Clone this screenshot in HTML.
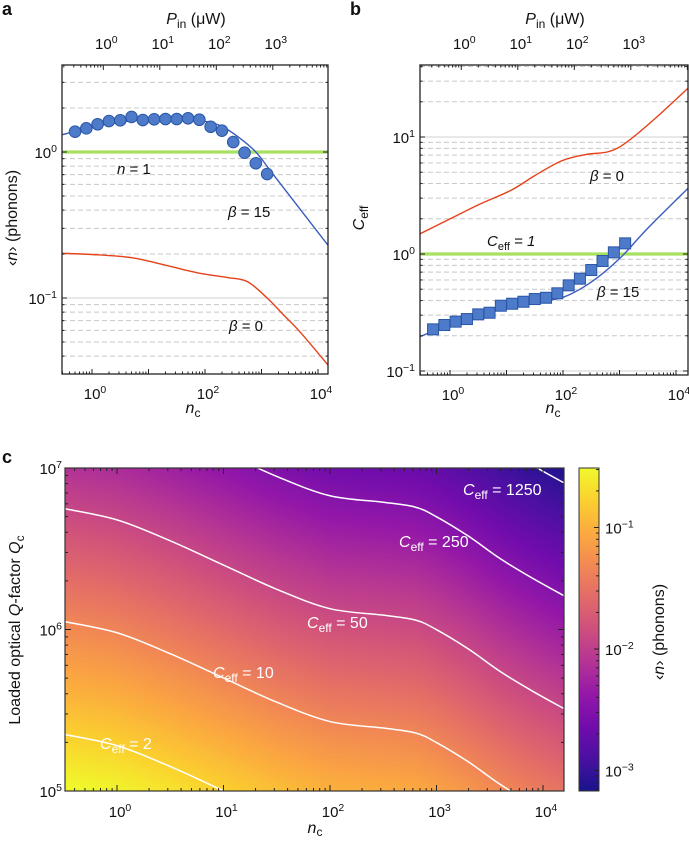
<!DOCTYPE html>
<html><head><meta charset="utf-8">
<style>
html,body{margin:0;padding:0;background:#fff;overflow:hidden;width:689px;height:841px;}
#wrap{position:relative;width:689px;height:841px;overflow:hidden;font-family:"Liberation Sans",sans-serif;}
#heat{position:absolute;left:65px;top:468px;display:block;}
#fig{position:absolute;left:0;top:0;display:block;overflow:hidden;}
text{font-family:"Liberation Sans",sans-serif;fill:#111;}
</style></head>
<body>
<div id="wrap">
<canvas id="heat" width="499" height="323"></canvas>
<svg id="fig" width="689" height="841" xmlns="http://www.w3.org/2000/svg"></svg>
</div>
<script>
// ---------- DATA ----------
const aDotsLogNc = [-0.3,-0.1,0.1,0.3,0.5,0.7,0.9,1.1,1.3,1.5,1.7,1.9,2.1,2.3,2.5,2.7,2.9,3.1];
const aDotsLogN  = [0.139,0.162,0.19,0.212,0.217,0.24,0.219,0.224,0.226,0.226,0.231,0.221,0.173,0.146,0.068,-0.005,-0.077,-0.151];
const aBlueLogNc = [-0.55,0,0.5,1,1.5,2,2.3,2.6,2.9,3.2,3.7,4.2];
const aBlueLogN  = [0.116,0.17,0.205,0.222,0.224,0.21,0.175,0.1,0.0,-0.15,-0.4,-0.65];
const aRedLogNc  = [-0.55,0,0.7,1.3,1.9,2.4,2.75,3.1,3.4,3.7,4.2];
const aRedLogN   = [-0.694,-0.702,-0.724,-0.775,-0.83,-0.86,-0.888,-1.0,-1.12,-1.24,-1.47];
const bSqLogNc = [-0.3,-0.1,0.1,0.3,0.5,0.7,0.9,1.1,1.3,1.5,1.7,1.9,2.1,2.3,2.5,2.7,2.9,3.1];
const bSqLogC  = [-0.644,-0.607,-0.578,-0.556,-0.516,-0.502,-0.442,-0.425,-0.408,-0.385,-0.374,-0.336,-0.268,-0.211,-0.137,-0.06,0.014,0.091];
const bBlueLogNc = [-0.55,0,0.5,1,1.5,2,2.5,3,3.5,4.23];
const bBlueLogC  = [-0.71,-0.6,-0.52,-0.44,-0.41,-0.37,-0.24,-0.04,0.22,0.57];
const bRedLogNc  = [-0.55,0,0.5,1.09,1.5,1.98,2.4,2.8,3.1,3.6,4.23];
const bRedLogC   = [0.168,0.3,0.42,0.547,0.67,0.797,0.85,0.874,0.946,1.145,1.425];
const cLogNc   = [-0.5,0,0.5,1,1.5,2,2.5,2.8,3,3.3,3.6,3.9,4.2];
const cBaseLogC= [0.95,1.02,1.15,1.30,1.45,1.57,1.61,1.64,1.70,1.82,1.96,2.08,2.19];
const cLevels  = [2,10,50,250,1250];
const cNLogK = -0.52, cNExp = -0.82;
const cbTicks = [-1,-2,-3];
const aYTicks=[0,-1], aXTicks=[0,2,4], topTicks=[0,1,2,3];
const bYTicks=[1,0,-1];
const cXTicks=[0,1,2,3,4], cYTicks=[5,6,7];

// ---------- SCALES ----------
const xa=l=>92+56.5*l, ya=l=>152-146*l;
const xb=l=>450+56.5*l, yb=l=>254-117*l;
const xc=l=>117+106.5*l, yc=q=>791-161.5*(q-5);
const ycb=l=>649-121.5*(l+2);
const P_OFF=0.2;

const NS="http://www.w3.org/2000/svg";
const svg=document.getElementById('fig');
function el(tag,attrs,parent){const e=document.createElementNS(NS,tag);for(const k in attrs)e.setAttribute(k,attrs[k]);(parent||svg).appendChild(e);return e;}
function catmull(pts){if(pts.length<2)return'';let d='M'+pts[0][0].toFixed(2)+','+pts[0][1].toFixed(2);
 for(let i=0;i<pts.length-1;i++){const p0=pts[i-1]||pts[i],p1=pts[i],p2=pts[i+1],p3=pts[i+2]||p2;
  const c1=[p1[0]+(p2[0]-p0[0])/6,p1[1]+(p2[1]-p0[1])/6],c2=[p2[0]-(p3[0]-p1[0])/6,p2[1]-(p3[1]-p1[1])/6];
  d+=` C${c1[0].toFixed(2)},${c1[1].toFixed(2)} ${c2[0].toFixed(2)},${c2[1].toFixed(2)} ${p2[0].toFixed(2)},${p2[1].toFixed(2)}`;}return d;}
function pow10(parent,x,y,exp,anchor,size,name){const t=el('text',{x:x,y:y,'text-anchor':anchor||'middle','font-size':size||15},parent);
 
 const a=el('tspan',{},t);a.textContent='10';const b=el('tspan',{dy:-6,'font-size':(size||15)*0.7},t);b.textContent=exp<0?'−'+(-exp):String(exp);return t;}
function txt(parent,x,y,html,attrs,name){const t=el('text',Object.assign({x:x,y:y,'font-size':15},attrs||{}),parent);t.innerHTML=html;
 return t;}
function clip(id,x0,y0,x1,y1){const d=el('clipPath',{id:id});el('rect',{x:x0,y:y0,width:x1-x0,height:y1-y0},d);}
function logTicks(lo,hi,cb){for(let d=Math.floor(lo)-1;d<=Math.ceil(hi);d++)for(let m=1;m<10;m++){const l=d+Math.log10(m);if(l>=lo-1e-9&&l<=hi+1e-9)cb(l,m===1);}}

function linePanel(o){
 const g=el('g',{});
 clip(o.name+'-clip',o.X0,o.Y0,o.X1,o.Y1);
 const ylo=(o.Y1-o.y(0))/(o.y(1)-o.y(0)), yhi=(o.Y0-o.y(0))/(o.y(1)-o.y(0));
 const xlo=(o.X0-o.x(0))/(o.x(1)-o.x(0)), xhi=(o.X1-o.x(0))/(o.x(1)-o.x(0));
 logTicks(ylo,yhi,(l,maj)=>{const Y=o.y(l);if(Math.abs(l)<1e-9)return;
  const ln=el('line',{x1:o.X0,x2:o.X1,y1:Y,y2:Y,stroke:maj?'#d0d0d0':'#c8c8c8','stroke-width':1,'stroke-dasharray':maj?'none':'5,3'},g);
  });
 const gl=el('line',{x1:o.X0,x2:o.X1,y1:o.y(0),y2:o.y(0),stroke:'#a8e060','stroke-width':3.2},g);
 
 const cg=el('g',{'clip-path':`url(#${o.name}-clip)`},g);
 const red=el('path',{d:catmull(o.redX.map((v,i)=>[o.x(v),o.y(o.redY[i])])),fill:'none',stroke:'#e6421a','stroke-width':1.4},cg);
 
 const blue=el('path',{d:catmull(o.blueX.map((v,i)=>[o.x(v),o.y(o.blueY[i])])),fill:'none',stroke:'#3a5cbf','stroke-width':1.4},cg);
 
 o.markX.forEach((v,i)=>{const X=o.x(v),Y=o.y(o.markY[i]);let m;
  if(o.square)m=el('rect',{x:X-5.5,y:Y-5.5,width:11,height:11,fill:'#4d7bc9',stroke:'#2a55a6','stroke-width':1},g);
  else m=el('circle',{cx:X,cy:Y,r:5.8,fill:'#4d7bc9',stroke:'#2a55a6','stroke-width':1},g);
  });
 const tk=el('g',{stroke:'#222','stroke-width':1},g);
 logTicks(xlo,xhi,(l,maj)=>{const X=o.x(l),L=maj?5:2.5;el('line',{x1:X,x2:X,y1:o.Y1,y2:o.Y1-L},tk);});
 logTicks(xlo-P_OFF,xhi-P_OFF,(l,maj)=>{const X=o.x(l+P_OFF),L=maj?5:2.5;el('line',{x1:X,x2:X,y1:o.Y0,y2:o.Y0+L},tk);});
 logTicks(ylo,yhi,(l,maj)=>{const Y=o.y(l),L=maj?5:2.5;el('line',{x1:o.X0,x2:o.X0+L,y1:Y,y2:Y},tk);el('line',{x1:o.X1,x2:o.X1-L,y1:Y,y2:Y},tk);});
 const fr=el('rect',{x:o.X0,y:o.Y0,width:o.X1-o.X0,height:o.Y1-o.Y0,fill:'none',stroke:'#222','stroke-width':1.3},g);
 
 o.xTicks.forEach(l=>pow10(g,o.x(l)+3,o.Y1+25,l,'middle',15,'x-tick-label'));
 topTicks.forEach(l=>pow10(g,o.x(l+P_OFF)+3,o.Y0-16,l,'middle',15,'top-tick-label'));
 o.yTicks.forEach(l=>pow10(g,o.X0-5,o.y(l)+6,l,'end',15,'y-tick-label'));
 return g;
}

linePanel({name:'panel-a',X0:62,X1:328,Y0:65,Y1:374,x:xa,y:ya,redX:aRedLogNc,redY:aRedLogN,blueX:aBlueLogNc,blueY:aBlueLogN,markX:aDotsLogNc,markY:aDotsLogN,square:false,xTicks:aXTicks,yTicks:aYTicks});
linePanel({name:'panel-b',X0:420,X1:688,Y0:65,Y1:375,x:xb,y:yb,redX:bRedLogNc,redY:bRedLogC,blueX:bBlueLogNc,blueY:bBlueLogC,markX:bSqLogNc,markY:bSqLogC,square:true,xTicks:aXTicks,yTicks:bYTicks});

txt(svg,2,15,'a',{'font-weight':'bold','font-size':18},'panel-label-a');
txt(svg,350,15,'b',{'font-weight':'bold','font-size':18},'panel-label-b');
txt(svg,196,24,'<tspan font-style="italic">P</tspan><tspan font-size="12" dy="4">in</tspan><tspan dy="-4"> (μW)</tspan>',{'text-anchor':'middle','font-size':16},'top-axis-title-a');
txt(svg,555,24,'<tspan font-style="italic">P</tspan><tspan font-size="12" dy="4">in</tspan><tspan dy="-4"> (μW)</tspan>',{'text-anchor':'middle','font-size':16},'top-axis-title-b');
txt(svg,193,413,'<tspan font-style="italic">n</tspan><tspan font-size="12" dy="4">c</tspan>',{'text-anchor':'middle','font-size':16},'x-axis-title-a');
txt(svg,553,413,'<tspan font-style="italic">n</tspan><tspan font-size="12" dy="4">c</tspan>',{'text-anchor':'middle','font-size':16},'x-axis-title-b');
txt(svg,0,0,'‹<tspan font-style="italic">n</tspan>› (phonons)',{'text-anchor':'middle','font-size':16,transform:'translate(17,218) rotate(-90)'},'y-axis-title-a');
txt(svg,0,0,'<tspan font-style="italic">C</tspan><tspan font-size="12" dy="4">eff</tspan>',{'text-anchor':'middle','font-size':16,transform:'translate(364,218) rotate(-90)'},'y-axis-title-b');
txt(svg,117,174,'<tspan font-style="italic">n</tspan> = 1',{},'label-n-equals-1');
txt(svg,228,217,'<tspan font-style="italic">β</tspan> = 15',{},'label-a-beta15');
txt(svg,229,331,'<tspan font-style="italic">β</tspan> = 0',{},'label-a-beta0');
txt(svg,590,181,'<tspan font-style="italic">β</tspan> = 0',{},'label-b-beta0');
txt(svg,487,246,'<tspan font-style="italic">C</tspan><tspan font-size="11" dy="4">eff</tspan><tspan dy="-4" font-style="italic"> = 1</tspan>',{},'label-ceff-1');
txt(svg,597,297,'<tspan font-style="italic">β</tspan> = 15',{},'label-b-beta15');

// ---------- PANEL C ----------
const CX0=65,CX1=564,CY0=468,CY1=791;
function baseAt(l){if(l<=cLogNc[0])return cBaseLogC[0]+(l-cLogNc[0])*(cBaseLogC[1]-cBaseLogC[0])/(cLogNc[1]-cLogNc[0]);
 for(let i=0;i<cLogNc.length-1;i++)if(l<=cLogNc[i+1]){const f=(l-cLogNc[i])/(cLogNc[i+1]-cLogNc[i]);return cBaseLogC[i]+f*(cBaseLogC[i+1]-cBaseLogC[i]);}
 const n=cLogNc.length;return cBaseLogC[n-1]+(l-cLogNc[n-1])*(cBaseLogC[n-1]-cBaseLogC[n-2])/(cLogNc[n-1]-cLogNc[n-2]);}
const CB_MIN=-2-(CY1-649)/121.5, CB_MAX=-2+(649-CY0)/121.5;
const plasma=[[13,8,135],[65,4,157],[106,0,168],[143,13,164],[177,42,144],[204,71,120],[225,100,98],[242,132,75],[252,166,54],[252,206,37],[240,249,33]];
function cmap(t){t=Math.max(0,Math.min(1,t));const s=t*(plasma.length-1),i=Math.min(plasma.length-2,Math.floor(s)),f=s-i;
 return plasma[i].map((c,k)=>Math.round(c+f*(plasma[i+1][k]-c)));}
(function(){const cv=document.getElementById('heat'),ctx=cv.getContext('2d');const W=cv.width,H=cv.height;
 const img=ctx.createImageData(W,H);
 for(let px=0;px<W;px++){const l=(CX0+px+0.5-117)/106.5;const b=baseAt(l);
  for(let py=0;py<H;py++){const q=5+(CY1-(CY0+py+0.5))/161.5;const logC=b+q-6;const logn=cNLogK+cNExp*logC;
   const c=cmap((logn-CB_MIN)/(CB_MAX-CB_MIN));const k=(py*W+px)*4;
   img.data[k]=c[0]*0.95+12;img.data[k+1]=c[1]*0.95+12;img.data[k+2]=c[2]*0.95+12;img.data[k+3]=255;}}
 ctx.putImageData(img,0,0);})();

const gc=el('g',{});
clip('c-clip',CX0,CY0,CX1,CY1);
const cg=el('g',{'clip-path':'url(#c-clip)'},gc);
cLevels.forEach(C=>{const pts=cLogNc.map((l,i)=>[xc(l),yc(Math.log10(C)+6-cBaseLogC[i])]);
 const p=el('path',{d:catmull(pts),fill:'none',stroke:'#fff','stroke-width':1.5},cg);
 });
const tkc=el('g',{stroke:'#222','stroke-width':1},gc);
logTicks(-0.49,4.2,(l,maj)=>{const X=xc(l),L=maj?6:3;el('line',{x1:X,x2:X,y1:CY1,y2:CY1-L},tkc);el('line',{x1:X,x2:X,y1:CY0,y2:CY0+L},tkc);});
logTicks(5,7,(l,maj)=>{const Y=yc(l),L=maj?6:3;el('line',{x1:CX0,x2:CX0+L,y1:Y,y2:Y},tkc);el('line',{x1:CX1,x2:CX1-L,y1:Y,y2:Y},tkc);});
const frc=el('rect',{x:CX0,y:CY0,width:CX1-CX0,height:CY1-CY0,fill:'none',stroke:'#333','stroke-width':1.2},gc);

cXTicks.forEach(l=>pow10(gc,xc(l)+3,CY1+26,l,'middle',15,'c-x-tick-label'));
cYTicks.forEach(l=>pow10(gc,CX0-3,yc(l)+6,l,'end',15,'c-y-tick-label'));
txt(svg,2,463,'c',{'font-weight':'bold','font-size':18},'panel-label-c');
txt(svg,315,833,'<tspan font-style="italic">n</tspan><tspan font-size="12" dy="3">c</tspan>',{'text-anchor':'middle','font-size':16},'x-axis-title-c');
txt(svg,0,0,'Loaded optical <tspan font-style="italic">Q</tspan>-factor <tspan font-style="italic">Q</tspan><tspan font-size="12" dy="4">c</tspan>',{'text-anchor':'middle','font-size':16,transform:'translate(20,630) rotate(-90)'},'y-axis-title-c');
const ceffLabels=[[463,495,'1250'],[399,547,'250'],[307,628,'50'],[213,678,'10'],[100,749,'2']];
ceffLabels.forEach(a=>txt(svg,a[0],a[1],`<tspan font-style="italic">C</tspan><tspan font-size="12" dy="4">eff</tspan><tspan dy="-4"> = ${a[2]}</tspan>`,{style:'fill:#fff','font-size':16},'contour-label-'+a[2]));

const defs=el('defs',{});const lg=el('linearGradient',{id:'cbg',x1:0,y1:1,x2:0,y2:0},defs);
plasma.forEach((c,i)=>{const cc=c.map(v=>Math.round(v*0.95+12));el('stop',{offset:i/(plasma.length-1),'stop-color':`rgb(${cc})`},lg);});
const cbr=el('rect',{x:579,y:CY0,width:20,height:CY1-CY0,fill:'url(#cbg)',stroke:'#333','stroke-width':1});

const tkb=el('g',{stroke:'#222','stroke-width':1});
logTicks(CB_MIN,CB_MAX,(l,maj)=>{const Y=ycb(l),L=maj?5:3;el('line',{x1:599,x2:599-L,y1:Y,y2:Y},tkb);});
cbTicks.forEach(l=>pow10(svg,605,ycb(l)+6,l,'start',15,'colorbar-tick-label'));
txt(svg,0,0,'‹<tspan font-style="italic">n</tspan>› (phonons)',{'text-anchor':'middle','font-size':16,transform:'translate(664,632) rotate(-90)'},'colorbar-title');
</script>
</body></html>
